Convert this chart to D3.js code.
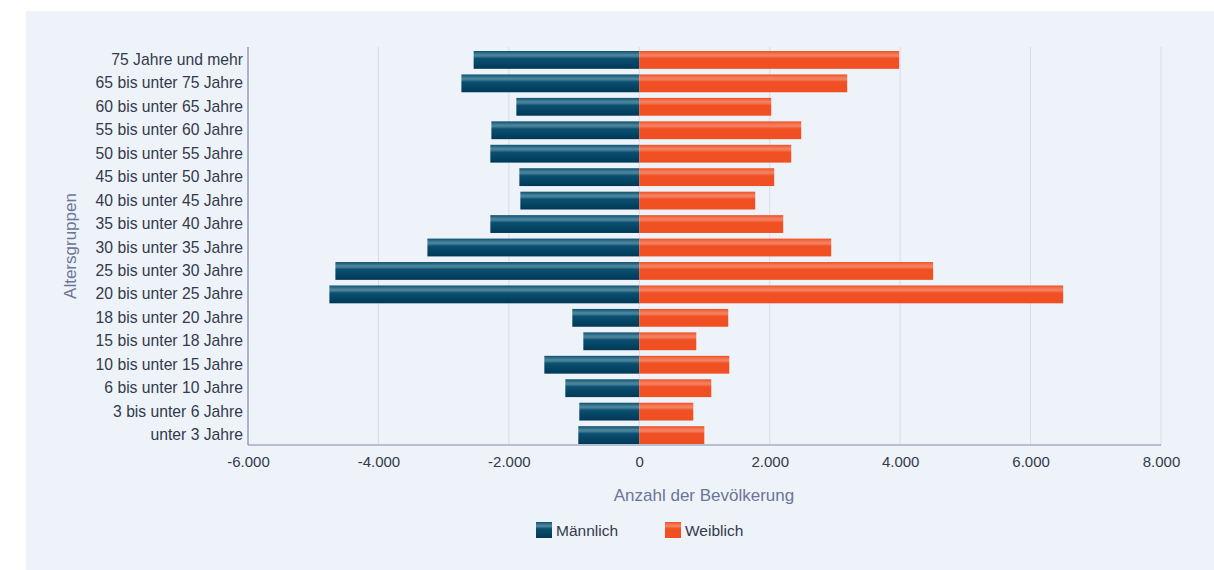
<!DOCTYPE html>
<html><head><meta charset="utf-8">
<script src="https://cdn.jsdelivr.net/npm/d3@7"></script>
<style>
body{margin:0;background:#fff;font-family:"Liberation Sans",Arial,Helvetica,sans-serif;}
</style></head>
<body><svg id="c" width="1214" height="570"></svg>
<script>
const categories = ["75 Jahre und mehr","65 bis unter 75 Jahre","60 bis unter 65 Jahre","55 bis unter 60 Jahre","50 bis unter 55 Jahre","45 bis unter 50 Jahre","40 bis unter 45 Jahre","35 bis unter 40 Jahre","30 bis unter 35 Jahre","25 bis unter 30 Jahre","20 bis unter 25 Jahre","18 bis unter 20 Jahre","15 bis unter 18 Jahre","10 bis unter 15 Jahre","6 bis unter 10 Jahre","3 bis unter 6 Jahre","unter 3 Jahre"];
const male = [-2540,-2728,-1885,-2268,-2284,-1839,-1824,-2284,-3249,-4660,-4752,-1027,-858,-1456,-1134,-920,-935];
const female = [3985,3188,2023,2483,2330,2069,1778,2207,2943,4506,6500,1364,874,1380,1104,828,997];
const xTicks = [-6000,-4000,-2000,0,2000,4000,6000,8000];
const seriesNames = ["Männlich","Weiblich"];

const svg = d3.select("#c");
const defs = svg.append("defs");
function grad(id, base, hi, dark){
  const g = defs.append("linearGradient").attr("id",id).attr("x1",0).attr("y1",0).attr("x2",0).attr("y2",1);
  [[0,base],[0.2,hi],[0.28,hi],[0.42,base],[1,dark]].forEach(([o,c])=>g.append("stop").attr("offset",o).attr("stop-color",c));
}
grad("gm","#0b5071","#4a8299","#003856");
grad("gf","#f15024","#f37f5e","#f04f22");

svg.append("rect").attr("x",26).attr("y",11).attr("width",1188).attr("height",559).attr("fill","#eef3fa");

const L=248,R=1161,T=47,B=445;
const x = d3.scaleLinear().domain([-6000,8000]).range([L,R]);
const y = d3.scaleBand().domain(categories).range([51,444]).paddingInner(0.24).paddingOuter(0);

// grid
svg.append("g").selectAll("line").data(xTicks.filter(d=>d!==-6000)).join("line")
  .attr("x1",d=>x(d)).attr("x2",d=>x(d)).attr("y1",T).attr("y2",B)
  .attr("stroke","#d8dde8").attr("stroke-width",1);

const fmt = d=> d3.format(",")(d).replace(/,/g,".").replace("−","-");

// bars
svg.append("g").selectAll("rect").data(male).join("rect")
  .attr("x",d=>x(d)).attr("y",(d,i)=>y(categories[i])).attr("width",d=>x(0)-x(d)).attr("height",y.bandwidth())
  .attr("fill","url(#gm)");
svg.append("g").selectAll("rect").data(female).join("rect")
  .attr("x",x(0)).attr("y",(d,i)=>y(categories[i])).attr("width",d=>x(d)-x(0)).attr("height",y.bandwidth())
  .attr("fill","url(#gf)");

// axes
const xa = svg.append("g").attr("transform",`translate(0,${B})`)
  .call(d3.axisBottom(x).tickValues(xTicks).tickSize(0).tickPadding(11).tickFormat(fmt));
xa.select(".domain").attr("d",`M${L},0H${R}`).attr("stroke","#7f8aab").attr("stroke-width",1.2);
xa.selectAll("text").attr("font-size",15).attr("fill","#333a4a").attr("font-family","Liberation Sans, Arial, sans-serif");

const ya = svg.append("g").attr("transform",`translate(${L},0)`)
  .call(d3.axisLeft(y).tickSize(0).tickPadding(5));
ya.select(".domain").attr("d",`M0,${T}V${B}`).attr("stroke","#7f8aab").attr("stroke-width",1.2);
ya.selectAll("text").attr("font-size",15.7).attr("fill","#333a4a").attr("font-family","Liberation Sans, Arial, sans-serif");

svg.append("text").attr("x",704).attr("y",501).attr("text-anchor","middle")
  .attr("font-size",17).attr("fill","#6b7595").text("Anzahl der Bevölkerung");
svg.append("text").attr("transform",`translate(76,${(T+B)/2}) rotate(-90)`).attr("text-anchor","middle")
  .attr("font-size",17).attr("fill","#6b7595").text("Altersgruppen");

// legend
const leg = [{n:seriesNames[0],f:"url(#gm)",x:536},{n:seriesNames[1],f:"url(#gf)",x:665}];
const lg = svg.append("g").selectAll("g").data(leg).join("g").attr("transform",d=>`translate(${d.x},522)`);
lg.append("rect").attr("width",16).attr("height",16).attr("fill",d=>d.f);
lg.append("text").attr("x",20).attr("y",14).attr("font-size",15.5).attr("fill","#333a4a").text(d=>d.n);
</script></body></html>
